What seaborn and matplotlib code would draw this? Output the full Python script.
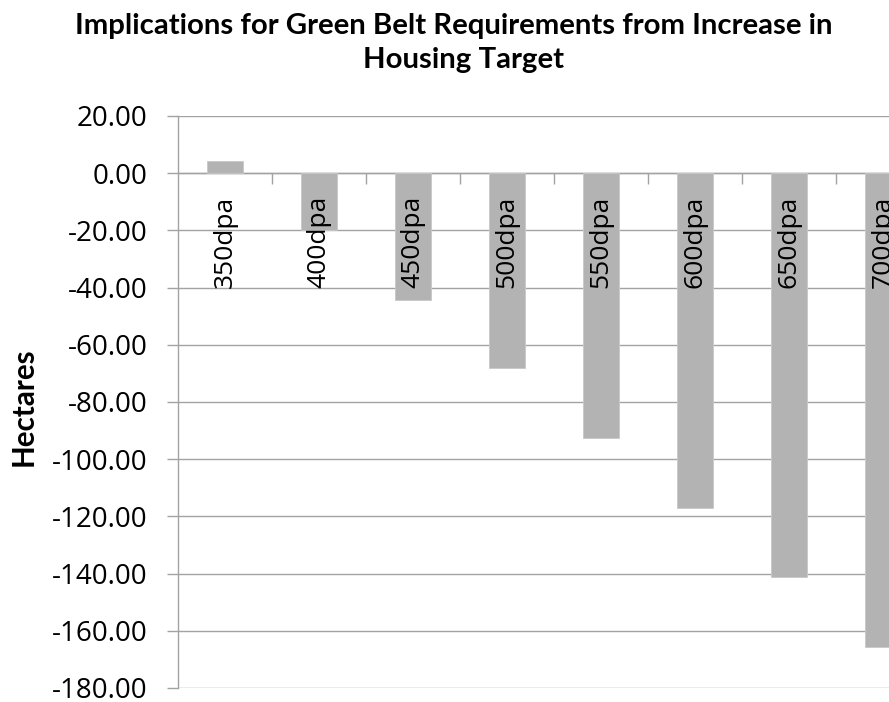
import matplotlib
matplotlib.use("Agg")
import matplotlib.pyplot as plt
from matplotlib.ticker import FixedLocator, FuncFormatter
import seaborn as sns
import pandas as pd

# ---- data ----
categories = ["350dpa", "400dpa", "450dpa", "500dpa", "550dpa", "600dpa", "650dpa", "700dpa"]
hectares = [4.4, -20.0, -44.3, -68.2, -92.6, -116.9, -141.3, -165.7]
y_ticks = [20, 0, -20, -40, -60, -80, -100, -120, -140, -160, -180]
title_lines = ["Implications for Green Belt Requirements from Increase in", "Housing Target"]
y_label = "Hectares"

df = pd.DataFrame({"cat": categories, "val": hectares})

sns.set_theme(style="white")
plt.rcParams["font.family"] = ["Open Sans", "DejaVu Sans"]
plt.rcParams["text.color"] = "black"

W, H = 889, 702
fig = plt.figure(figsize=(W / 100, H / 100), dpi=100)
ax = fig.add_axes([178 / W, 1 - 688 / H, 752 / W, (688 - 116) / H])

grid_c = "#a3a3a3"
sns.barplot(data=df, x="cat", y="val", color="#b3b3b3", saturation=1,
            width=0.383, edgecolor="#c8c8c8", linewidth=0.6, ax=ax, zorder=2)

ax.set_ylim(-180, 20)
ax.set_xlim(-0.5, len(categories) - 0.5)
ax.yaxis.set_major_locator(FixedLocator(y_ticks))
ax.yaxis.set_major_formatter(FuncFormatter(lambda v, p: f"{v:.2f}"))
ax.grid(False)
for t in y_ticks:
    ax.axhline(t, color=grid_c, linewidth=1.0, zorder=1)
ax.set_axisbelow(False)

for s in ["top", "right"]:
    ax.spines[s].set_visible(False)
ax.spines["left"].set_color(grid_c)
ax.spines["left"].set_linewidth(1.0)
ax.spines["bottom"].set_position(("data", 0))
ax.spines["bottom"].set_color(grid_c)
ax.spines["bottom"].set_linewidth(1.0)
ax.spines["bottom"].set_zorder(1.5)

ax.tick_params(axis="y", which="major", direction="out", length=8, width=1.0,
               color=grid_c, labelcolor="black", labelsize=20, pad=14, left=True)
ax.set_xticks(range(len(categories)))
ax.set_xticklabels(categories, rotation=90, va="top", ha="center")
ax.tick_params(axis="x", which="major", length=0, labelsize=19, pad=16,
               labelcolor="black", bottom=True)
ax.set_xticks([i + 0.5 for i in range(len(categories) - 1)], minor=True)
ax.tick_params(axis="x", which="minor", direction="out", length=8, width=1.0,
               color=grid_c, bottom=True)

ax.set_xlabel("")
ax.set_ylabel("")

fig.text(24 / W, 1 - 407 / H, y_label, rotation=90, ha="center", va="center",
         fontsize=21.3, fontweight="bold", color="black", family=["Lato", "DejaVu Sans"])
fig.text(454 / W, 1 - 34 / H, title_lines[0], ha="center", va="baseline",
         fontsize=21.2, fontweight="bold", color="black", family=["Lato", "DejaVu Sans"])
fig.text(463 / W, 1 - 68 / H, title_lines[1], ha="center", va="baseline",
         fontsize=21.2, fontweight="bold", color="black", family=["Lato", "DejaVu Sans"])

fig.savefig("out.png", dpi=100)
